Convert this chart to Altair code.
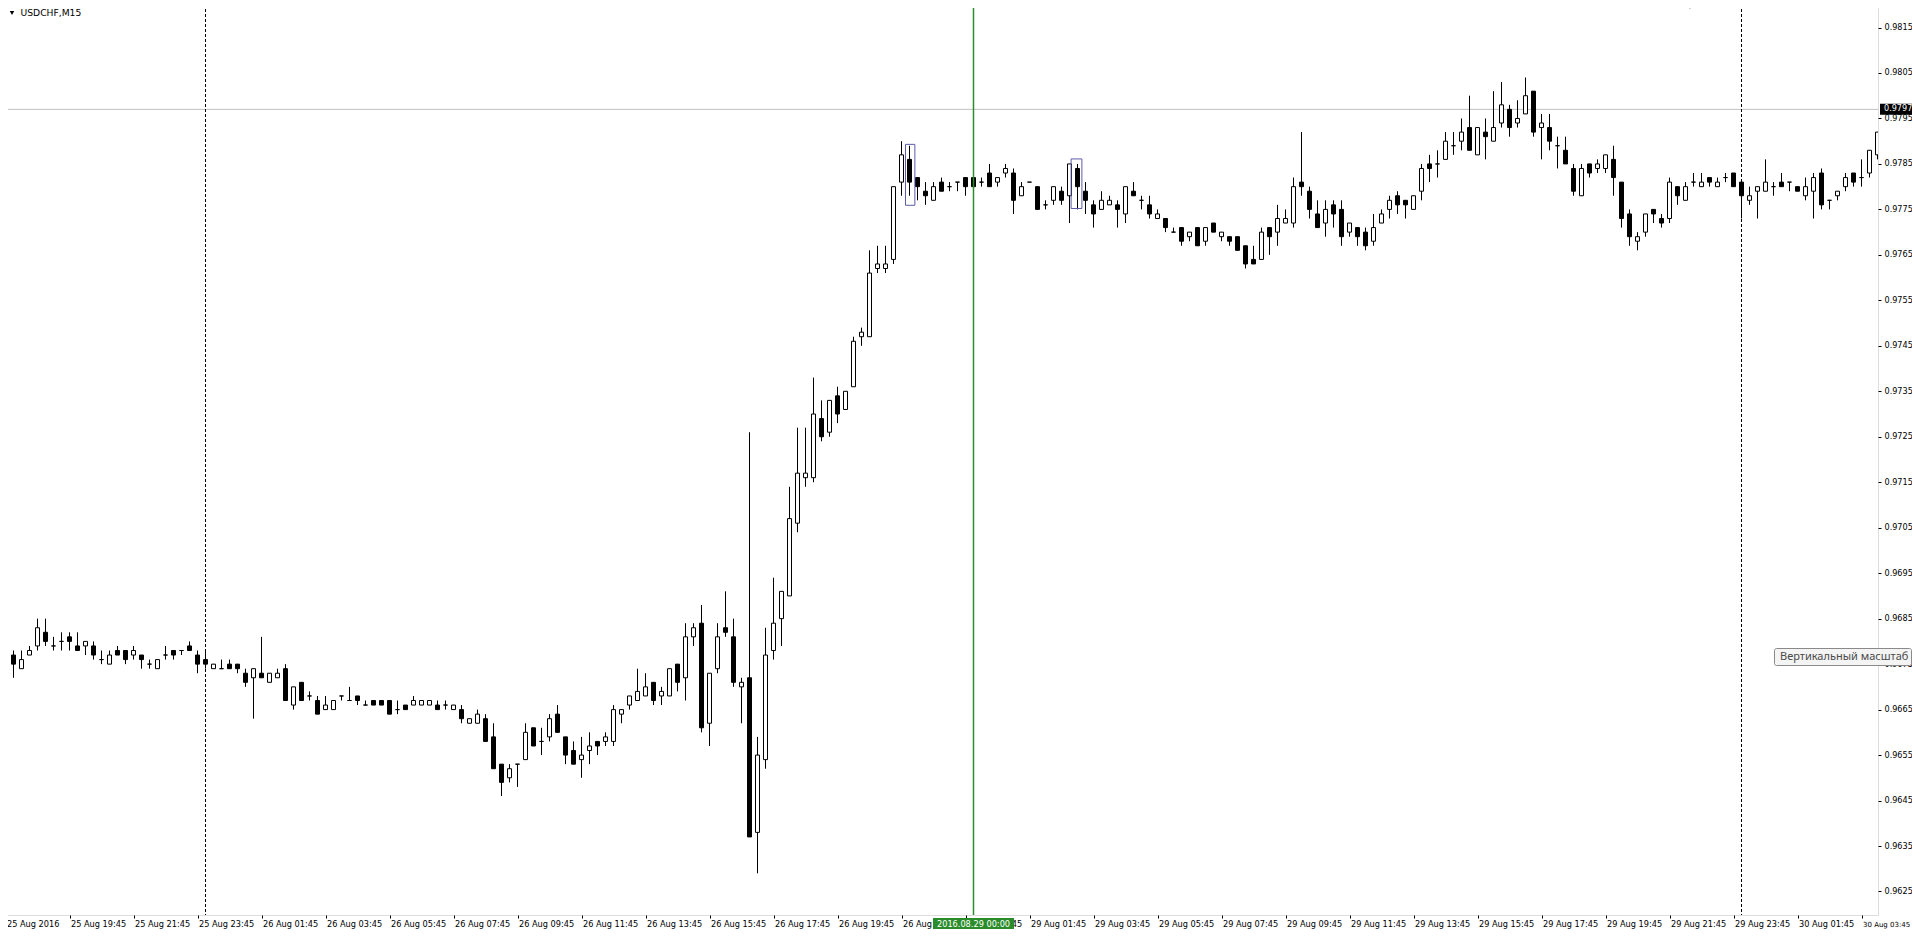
import altair as alt
import pandas as pd

# USDCHF M15 bars, index 0 = 25 Aug 2016 17:45 (server time)
opens = [
    0.9668, 0.9677, 0.9674, 0.9677, 0.9679, 0.9682, 0.9679, 0.9680, 0.9681, 0.9679,
    0.9679, 0.9679, 0.9676, 0.9675, 0.9678, 0.9678, 0.9677, 0.9677, 0.9675, 0.9674,
    0.9677, 0.9678, 0.9678, 0.9679, 0.9677, 0.9676, 0.9674, 0.9674, 0.9675, 0.9675,
    0.9673, 0.9672, 0.9673, 0.9671, 0.9672, 0.9674, 0.9666, 0.9671, 0.9668, 0.9667,
    0.9665, 0.9665, 0.9668, 0.9667, 0.9668, 0.9666, 0.9667, 0.9667, 0.9667, 0.9665,
    0.9666, 0.9666, 0.9666, 0.9666, 0.9666, 0.9666, 0.9665, 0.9665, 0.9662, 0.9662,
    0.9663, 0.9659, 0.9653, 0.9650, 0.9653, 0.9654, 0.9661, 0.9658, 0.9659, 0.9664,
    0.9659, 0.9656, 0.9654, 0.9656, 0.9658, 0.9658, 0.9658, 0.9664, 0.9666, 0.9667,
    0.9668, 0.9671, 0.9668, 0.9668, 0.9675, 0.9672, 0.9681, 0.9684, 0.9662, 0.9674,
    0.9683, 0.9681, 0.9670, 0.9672, 0.9638, 0.9654, 0.9678, 0.9685, 0.9690, 0.9706,
    0.9716, 0.9716, 0.9729, 0.9726, 0.9734, 0.9731, 0.9736, 0.9747, 0.9747, 0.9762,
    0.9762, 0.9764, 0.9781, 0.9786, 0.9782, 0.9779, 0.9777, 0.9781, 0.9780, 0.9781,
    0.9782, 0.9782, 0.9781, 0.9783, 0.9781, 0.9783, 0.9783, 0.9778, 0.9781, 0.9780,
    0.9776, 0.9777, 0.9779, 0.9778, 0.9784, 0.9779, 0.9776, 0.9775, 0.9776, 0.9776,
    0.9774, 0.9779, 0.9777, 0.9776, 0.9773, 0.9773, 0.9770, 0.9771, 0.9769, 0.9771,
    0.9768, 0.9772, 0.9769, 0.9769, 0.9769, 0.9767, 0.9764, 0.9764, 0.9771, 0.9770,
    0.9772, 0.9772, 0.9781, 0.9779, 0.9774, 0.9772, 0.9776, 0.9775, 0.9770, 0.9771,
    0.9770, 0.9768, 0.9772, 0.9775, 0.9778, 0.9777, 0.9775, 0.9779, 0.9785, 0.9785,
    0.9786, 0.9789, 0.9790, 0.9793, 0.9787, 0.9792, 0.9790, 0.9794, 0.9797, 0.9794,
    0.9796, 0.9801, 0.9793, 0.9793, 0.9789, 0.9788, 0.9784, 0.9778, 0.9785, 0.9784,
    0.9784, 0.9786, 0.9781, 0.9774, 0.9768, 0.9770, 0.9775, 0.9773, 0.9773, 0.9780,
    0.9777, 0.9781, 0.9780, 0.9782, 0.9780, 0.9782, 0.9783, 0.9781, 0.9777, 0.9779,
    0.9779, 0.9780, 0.9781, 0.9781, 0.9780, 0.9778, 0.9779, 0.9783, 0.9777, 0.9778,
    0.9780, 0.9783, 0.9782, 0.9783, 0.9787,
]
highs = [
    0.9678, 0.9678, 0.9678, 0.9679, 0.9685, 0.9685, 0.9681, 0.9682, 0.9682, 0.9682,
    0.9680, 0.9680, 0.9678, 0.9678, 0.9679, 0.9678, 0.9679, 0.9677, 0.9676, 0.9676,
    0.9679, 0.9678, 0.9678, 0.9680, 0.9678, 0.9678, 0.9675, 0.9676, 0.9676, 0.9675,
    0.9674, 0.9674, 0.9681, 0.9673, 0.9674, 0.9675, 0.9670, 0.9671, 0.9669, 0.9668,
    0.9668, 0.9667, 0.9668, 0.9670, 0.9668, 0.9667, 0.9667, 0.9667, 0.9667, 0.9667,
    0.9666, 0.9668, 0.9667, 0.9667, 0.9667, 0.9667, 0.9666, 0.9666, 0.9663, 0.9665,
    0.9664, 0.9662, 0.9653, 0.9653, 0.9653, 0.9662, 0.9661, 0.9661, 0.9664, 0.9666,
    0.9659, 0.9658, 0.9659, 0.9660, 0.9658, 0.9660, 0.9666, 0.9665, 0.9668, 0.9674,
    0.9673, 0.9671, 0.9670, 0.9674, 0.9675, 0.9684, 0.9684, 0.9688, 0.9673, 0.9684,
    0.9691, 0.9685, 0.9672, 0.9726, 0.9659, 0.9683, 0.9694, 0.9691, 0.9714, 0.9727,
    0.9727, 0.9738, 0.9733, 0.9733, 0.9736, 0.9735, 0.9747, 0.9749, 0.9766, 0.9767,
    0.9767, 0.9780, 0.9790, 0.9789, 0.9782, 0.9781, 0.9781, 0.9782, 0.9781, 0.9781,
    0.9782, 0.9782, 0.9782, 0.9785, 0.9782, 0.9785, 0.9784, 0.9781, 0.9781, 0.9780,
    0.9777, 0.9780, 0.9780, 0.9785, 0.9785, 0.9781, 0.9777, 0.9779, 0.9778, 0.9777,
    0.9780, 0.9781, 0.9778, 0.9778, 0.9775, 0.9773, 0.9771, 0.9771, 0.9770, 0.9771,
    0.9771, 0.9772, 0.9770, 0.9769, 0.9769, 0.9767, 0.9767, 0.9771, 0.9771, 0.9776,
    0.9775, 0.9782, 0.9792, 0.9780, 0.9777, 0.9777, 0.9777, 0.9777, 0.9772, 0.9771,
    0.9771, 0.9774, 0.9775, 0.9778, 0.9779, 0.9777, 0.9778, 0.9785, 0.9787, 0.9788,
    0.9792, 0.9792, 0.9795, 0.9800, 0.9793, 0.9795, 0.9801, 0.9803, 0.9798, 0.9799,
    0.9804, 0.9801, 0.9796, 0.9796, 0.9791, 0.9791, 0.9785, 0.9785, 0.9785, 0.9786,
    0.9787, 0.9789, 0.9781, 0.9775, 0.9770, 0.9774, 0.9775, 0.9774, 0.9782, 0.9780,
    0.9781, 0.9783, 0.9783, 0.9782, 0.9782, 0.9783, 0.9783, 0.9781, 0.9780, 0.9780,
    0.9786, 0.9781, 0.9783, 0.9781, 0.9780, 0.9782, 0.9783, 0.9784, 0.9777, 0.9779,
    0.9783, 0.9783, 0.9786, 0.9788, 0.9792,
]
lows = [
    0.9665, 0.9672, 0.9674, 0.9677, 0.9678, 0.9679, 0.9678, 0.9678, 0.9678, 0.9678,
    0.9677, 0.9676, 0.9675, 0.9675, 0.9677, 0.9675, 0.9676, 0.9674, 0.9674, 0.9674,
    0.9676, 0.9676, 0.9677, 0.9678, 0.9673, 0.9674, 0.9674, 0.9674, 0.9674, 0.9673,
    0.9670, 0.9663, 0.9672, 0.9671, 0.9672, 0.9667, 0.9665, 0.9667, 0.9667, 0.9664,
    0.9665, 0.9665, 0.9667, 0.9667, 0.9666, 0.9666, 0.9666, 0.9666, 0.9664, 0.9664,
    0.9665, 0.9666, 0.9666, 0.9666, 0.9665, 0.9665, 0.9665, 0.9662, 0.9662, 0.9662,
    0.9658, 0.9652, 0.9646, 0.9649, 0.9648, 0.9654, 0.9657, 0.9655, 0.9658, 0.9660,
    0.9653, 0.9653, 0.9650, 0.9653, 0.9655, 0.9657, 0.9657, 0.9662, 0.9665, 0.9667,
    0.9668, 0.9666, 0.9666, 0.9668, 0.9669, 0.9667, 0.9679, 0.9660, 0.9657, 0.9673,
    0.9681, 0.9670, 0.9662, 0.9637, 0.9629, 0.9652, 0.9676, 0.9679, 0.9690, 0.9704,
    0.9714, 0.9715, 0.9724, 0.9725, 0.9728, 0.9731, 0.9736, 0.9745, 0.9747, 0.9761,
    0.9761, 0.9763, 0.9778, 0.9778, 0.9777, 0.9776, 0.9777, 0.9779, 0.9779, 0.9779,
    0.9778, 0.9780, 0.9780, 0.9780, 0.9780, 0.9782, 0.9774, 0.9778, 0.9781, 0.9775,
    0.9775, 0.9776, 0.9776, 0.9772, 0.9775, 0.9774, 0.9771, 0.9775, 0.9776, 0.9771,
    0.9772, 0.9778, 0.9775, 0.9773, 0.9773, 0.9770, 0.9770, 0.9767, 0.9768, 0.9767,
    0.9767, 0.9770, 0.9768, 0.9767, 0.9766, 0.9762, 0.9763, 0.9764, 0.9765, 0.9767,
    0.9772, 0.9771, 0.9778, 0.9773, 0.9771, 0.9769, 0.9771, 0.9767, 0.9769, 0.9767,
    0.9766, 0.9767, 0.9772, 0.9773, 0.9774, 0.9773, 0.9775, 0.9777, 0.9781, 0.9782,
    0.9786, 0.9787, 0.9788, 0.9788, 0.9787, 0.9786, 0.9790, 0.9793, 0.9791, 0.9793,
    0.9796, 0.9791, 0.9786, 0.9788, 0.9784, 0.9785, 0.9778, 0.9778, 0.9782, 0.9783,
    0.9783, 0.9778, 0.9771, 0.9767, 0.9766, 0.9769, 0.9772, 0.9771, 0.9772, 0.9776,
    0.9777, 0.9780, 0.9780, 0.9780, 0.9780, 0.9781, 0.9780, 0.9773, 0.9776, 0.9773,
    0.9779, 0.9778, 0.9780, 0.9779, 0.9779, 0.9777, 0.9773, 0.9775, 0.9775, 0.9777,
    0.9779, 0.9780, 0.9780, 0.9782, 0.9786,
]
closes = [
    0.9678, 0.9675, 0.9676, 0.9678, 0.9683, 0.9680, 0.9679, 0.9680, 0.9680, 0.9678,
    0.9680, 0.9677, 0.9676, 0.9677, 0.9677, 0.9676, 0.9678, 0.9676, 0.9675, 0.9676,
    0.9677, 0.9677, 0.9678, 0.9678, 0.9675, 0.9675, 0.9675, 0.9674, 0.9674, 0.9674,
    0.9671, 0.9674, 0.9672, 0.9673, 0.9673, 0.9667, 0.9670, 0.9667, 0.9668, 0.9664,
    0.9666, 0.9667, 0.9668, 0.9667, 0.9667, 0.9666, 0.9666, 0.9666, 0.9664, 0.9665,
    0.9665, 0.9667, 0.9667, 0.9667, 0.9665, 0.9666, 0.9666, 0.9663, 0.9663, 0.9664,
    0.9658, 0.9652, 0.9649, 0.9652, 0.9653, 0.9660, 0.9657, 0.9658, 0.9663, 0.9660,
    0.9655, 0.9653, 0.9655, 0.9657, 0.9657, 0.9659, 0.9665, 0.9665, 0.9668, 0.9669,
    0.9670, 0.9667, 0.9669, 0.9674, 0.9671, 0.9681, 0.9683, 0.9661, 0.9673, 0.9681,
    0.9682, 0.9671, 0.9671, 0.9637, 0.9655, 0.9677, 0.9684, 0.9691, 0.9707, 0.9717,
    0.9717, 0.9730, 0.9725, 0.9733, 0.9730, 0.9735, 0.9746, 0.9748, 0.9761, 0.9763,
    0.9763, 0.9780, 0.9787, 0.9781, 0.9780, 0.9778, 0.9780, 0.9779, 0.9780, 0.9781,
    0.9780, 0.9780, 0.9781, 0.9780, 0.9782, 0.9784, 0.9777, 0.9780, 0.9781, 0.9775,
    0.9776, 0.9780, 0.9777, 0.9785, 0.9780, 0.9777, 0.9774, 0.9777, 0.9777, 0.9775,
    0.9780, 0.9778, 0.9777, 0.9774, 0.9774, 0.9771, 0.9770, 0.9768, 0.9770, 0.9767,
    0.9771, 0.9770, 0.9770, 0.9768, 0.9766, 0.9763, 0.9763, 0.9770, 0.9769, 0.9773,
    0.9773, 0.9780, 0.9780, 0.9775, 0.9771, 0.9775, 0.9774, 0.9769, 0.9772, 0.9769,
    0.9767, 0.9771, 0.9774, 0.9777, 0.9776, 0.9776, 0.9778, 0.9784, 0.9784, 0.9785,
    0.9790, 0.9789, 0.9792, 0.9788, 0.9793, 0.9791, 0.9793, 0.9798, 0.9793, 0.9795,
    0.9800, 0.9792, 0.9794, 0.9790, 0.9789, 0.9785, 0.9779, 0.9784, 0.9783, 0.9785,
    0.9787, 0.9782, 0.9773, 0.9769, 0.9769, 0.9774, 0.9774, 0.9772, 0.9781, 0.9778,
    0.9780, 0.9781, 0.9781, 0.9781, 0.9781, 0.9782, 0.9780, 0.9778, 0.9778, 0.9780,
    0.9781, 0.9780, 0.9780, 0.9781, 0.9779, 0.9780, 0.9782, 0.9776, 0.9777, 0.9779,
    0.9782, 0.9781, 0.9782, 0.9788, 0.9792,
]

# time-axis labels (one every 8 bars)
tick_bars = [0, 8, 16, 24, 32, 40, 48, 56, 64, 72, 80, 88, 96, 104, 112, 120,
             128, 136, 144, 152, 160, 168, 176, 184, 192, 200, 208, 216, 224, 232]
tick_labels = ["25 Aug 2016", "25 Aug 19:45", "25 Aug 21:45", "25 Aug 23:45",
               "26 Aug 01:45", "26 Aug 03:45", "26 Aug 05:45", "26 Aug 07:45",
               "26 Aug 09:45", "26 Aug 11:45", "26 Aug 13:45", "26 Aug 15:45",
               "26 Aug 17:45", "26 Aug 19:45", "26 Aug 21:45", "26 Aug 23:45",
               "29 Aug 01:45", "29 Aug 03:45", "29 Aug 05:45", "29 Aug 07:45",
               "29 Aug 09:45", "29 Aug 11:45", "29 Aug 13:45", "29 Aug 15:45",
               "29 Aug 17:45", "29 Aug 19:45", "29 Aug 21:45", "29 Aug 23:45",
               "30 Aug 01:45", "30 Aug 03:45"]
price_ticks = [0.9625, 0.9635, 0.9645, 0.9655, 0.9665, 0.9675, 0.9685, 0.9695,
               0.9705, 0.9715, 0.9725, 0.9735, 0.9745, 0.9755, 0.9765, 0.9775,
               0.9785, 0.9795, 0.9805, 0.9815]

# chart objects
separator_bars = [25, 217]          # day separators (26 Aug 00:00, 30 Aug 00:00)
vline_bar = [121]                   # vertical line 2016.08.29 00:00
vline_label = ["2016.08.29 00:00"]
hline_price = [0.9797]
hline_label = ["0.9797"]
rect_bar_from = [112.5, 133.2]
rect_bar_to = [113.67, 134.55]
rect_price_low = [0.97759, 0.97752]
rect_price_high = [0.97893, 0.97861]
symbol_title = "USDCHF,M15"
tooltip_text = "Вертикальный масштаб"

FONT = "DejaVu Sans"
W, H = 1874, 911
GREEN = "#2a8c2a"

df = pd.DataFrame({"k": list(range(len(opens))), "o": opens, "h": highs,
                   "l": lows, "c": closes})
df["dir"] = ["up" if c >= o else "down" for o, c in zip(opens, closes)]

xs = alt.Scale(domain=[-0.1875, 234.0625], nice=False, zero=False, padding=0)
ys = alt.Scale(domain=[0.961983, 0.982017], nice=False, zero=False, padding=0)

label_expr = ("[" + ",".join("'" + s + "'" for s in tick_labels) + "]"
              "[indexof([" + ",".join(str(t) for t in tick_bars) + "], datum.value)]")
last_tick = tick_bars[-1]
x_axis = alt.Axis(values=tick_bars, labelExpr=label_expr, labelAlign="left",
                  labelBaseline="alphabetic", labelOffset=1, labelPadding=8, tickSize=3,
                  tickColor="black", labelColor="black", domain=False, grid=False,
                  title=None, labelOverlap=False, labelBound=False, labelFlush=False,
                  labelFont=FONT,
                  labelFontSize={"condition": {"test": f"datum.value == {last_tick}",
                                               "value": 7.0},
                                 "value": 8.2})
y_axis = alt.Axis(values=price_ticks, format=".4f", orient="right", tickSize=3,
                  labelPadding=3, tickColor="black", labelColor="black",
                  domain=False, grid=False, title=None, labelOverlap=False,
                  labelBound=False, labelFont=FONT, labelFontSize=8.1)


def X(field, **kw):
    return alt.X(field, scale=xs, axis=x_axis, **kw)


def Y(field, **kw):
    return alt.Y(field, scale=ys, axis=y_axis, **kw)


base = alt.Chart(df)

hline = alt.Chart(pd.DataFrame({"p": hline_price})).mark_rule(
    color="#c0c0c0", strokeWidth=1).encode(y=Y("p:Q"))

seps = alt.Chart(pd.DataFrame({"k": separator_bars})).mark_rule(
    color="black", strokeWidth=1, strokeDash=[3, 2]).encode(x=X("k:Q"))

wicks = base.mark_rule(color="black", strokeWidth=1, clip=True).encode(
    x=X("k:Q"), y=Y("l:Q"), y2="h:Q")

bodies = base.mark_bar(size=4, stroke="black", strokeWidth=1, clip=True).encode(
    x=X("k:Q"), y=Y("o:Q"), y2="c:Q",
    fill=alt.Fill("dir:N", scale=alt.Scale(domain=["up", "down"],
                                           range=["white", "black"]), legend=None))

rects = alt.Chart(pd.DataFrame({"k1": rect_bar_from, "k2": rect_bar_to,
                                "p1": rect_price_low, "p2": rect_price_high})).mark_rect(
    fill=None, stroke="#5c5ca8", strokeWidth=1).encode(
    x=X("k1:Q"), x2="k2:Q", y=Y("p1:Q"), y2="p2:Q")

green = alt.Chart(pd.DataFrame({"k": vline_bar})).mark_rule(
    color=GREEN, strokeWidth=1.5).encode(x=X("k:Q"))

green_box = alt.Chart(pd.DataFrame({"k": vline_bar, "t": vline_label})).mark_rect(
    color=GREEN, width=81, height=11).encode(x=X("k:Q"), y=alt.value(919.5))
green_txt = alt.Chart(pd.DataFrame({"k": vline_bar, "t": vline_label})).mark_text(
    color="white", font=FONT, fontSize=8.2, baseline="alphabetic", align="center").encode(
    x=X("k:Q"), y=alt.value(922.5), text="t:N")

price_box = alt.Chart(pd.DataFrame({"p": hline_price, "t": hline_label})).mark_rect(
    color="black", width=37, height=11).encode(x=alt.value(W + 20.5), y=Y("p:Q"))
price_txt = alt.Chart(pd.DataFrame({"p": hline_price, "t": hline_label})).mark_text(
    color="white", font=FONT, fontSize=8.1, baseline="middle", align="left").encode(
    x=alt.value(W + 6), y=Y("p:Q"), text="t:N")

title_tri = alt.Chart(pd.DataFrame({"a": [0]})).mark_point(
    shape="triangle-down", filled=True, color="black", size=20, opacity=1).encode(
    x=alt.value(8), y=alt.value(9))
title_txt = alt.Chart(pd.DataFrame({"t": [symbol_title]})).mark_text(
    color="black", font=FONT, fontSize=9.2, align="left", baseline="alphabetic").encode(
    x=alt.value(16.5), y=alt.value(12), text="t:N")

shift_tri = alt.Chart(pd.DataFrame({"a": [0]})).mark_point(
    shape="triangle-down", filled=True, color="#a8a8a8", size=45, opacity=1).encode(
    x=alt.value(1686), y=alt.value(2.5))

tip_box = alt.Chart(pd.DataFrame({"a": [0]})).mark_rect(
    fill="#f4f4f4", stroke="#8a8a8a", strokeWidth=1, cornerRadius=2).encode(
    x=alt.value(1770.5), x2=alt.value(1907.5), y=alt.value(644.5), y2=alt.value(661.5))
tip_txt = alt.Chart(pd.DataFrame({"t": [tooltip_text]})).mark_text(
    color="#4a4a4a", font="Noto Sans", fontSize=11, align="left", baseline="middle").encode(
    x=alt.value(1776), y=alt.value(653), text="t:N")

chart = alt.layer(
    hline, seps, wicks, bodies, rects, green, green_box, green_txt,
    price_box, price_txt, title_tri, title_txt, shift_tri, tip_box, tip_txt
).properties(
    width=W, height=H,
    autosize=alt.AutoSizeParams(type="none"),
    padding={"left": -4, "top": -4, "right": 34, "bottom": 15},
).configure_view(stroke="black", strokeWidth=1).configure(background="white")

chart.save("out.html", embed_options={"renderer": "svg", "actions": False})
